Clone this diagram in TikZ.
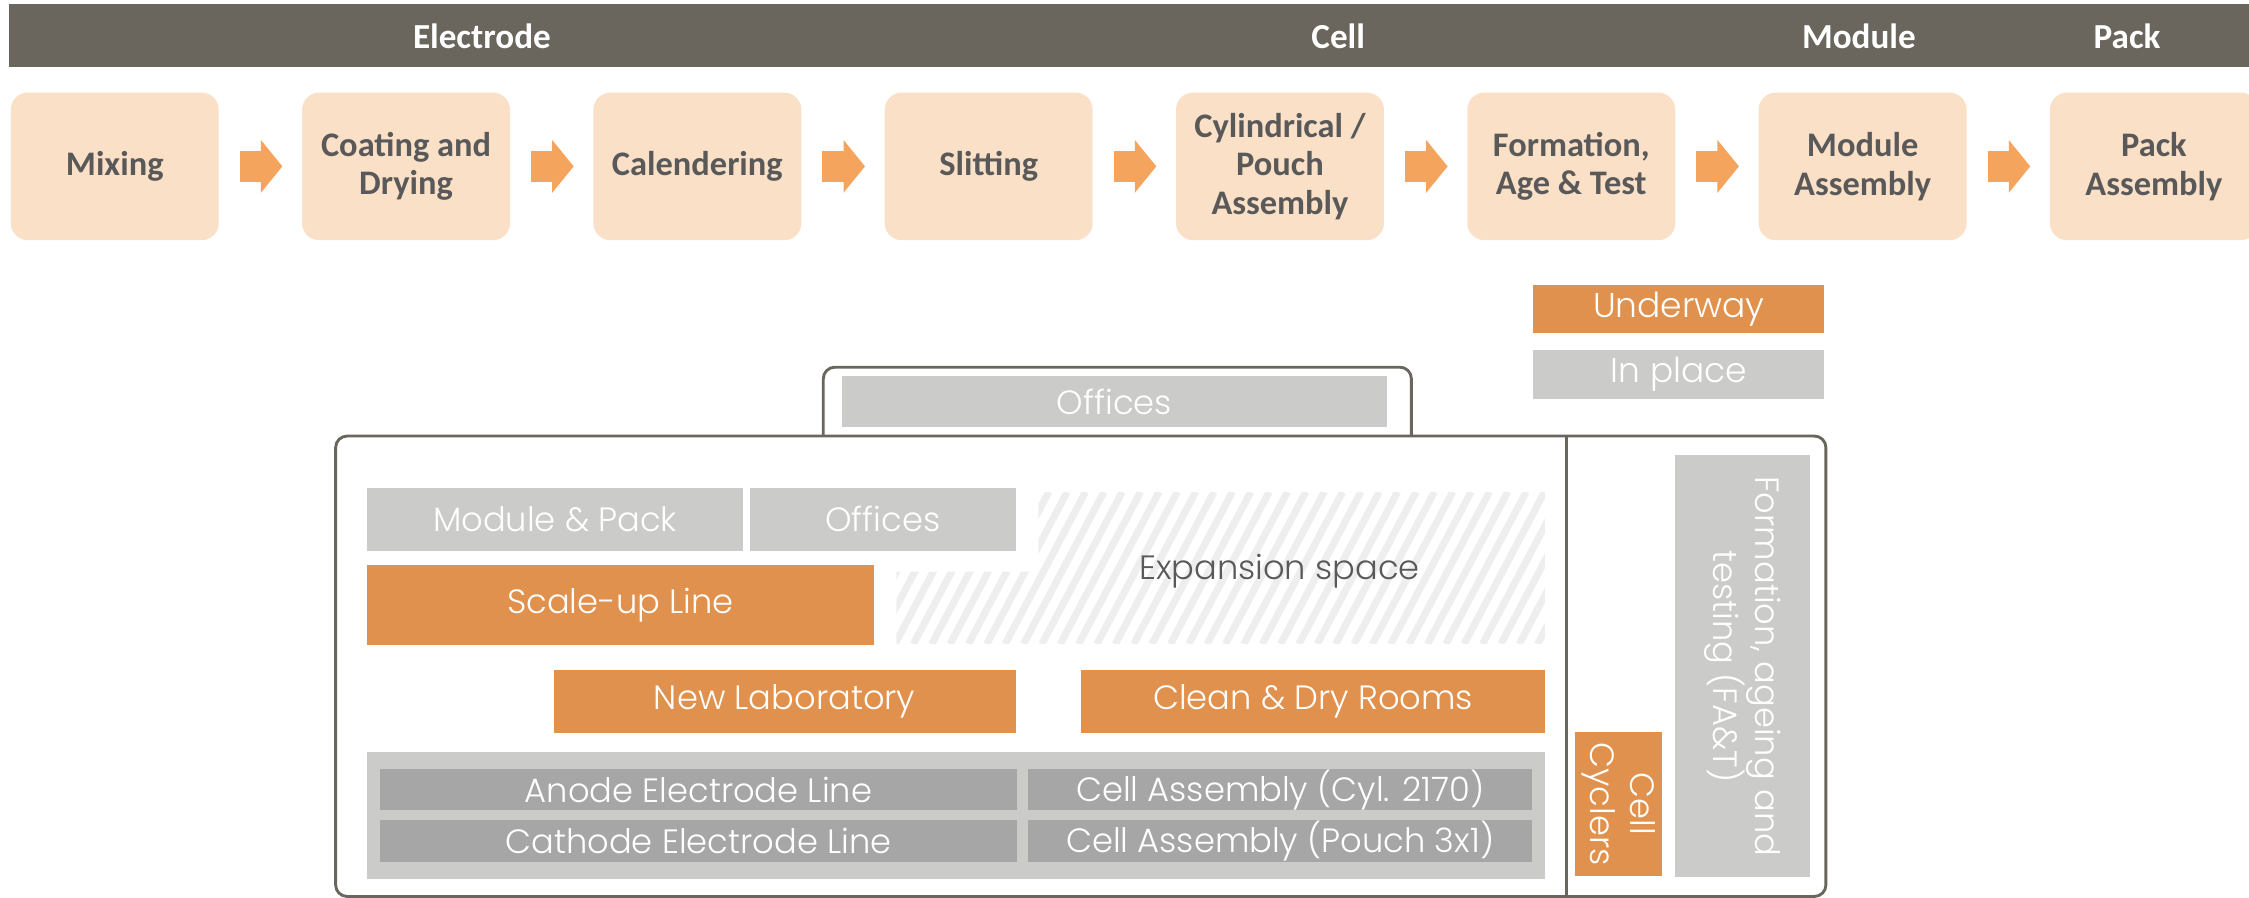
\documentclass[tikz,border=0pt]{standalone}
\usepackage{fontspec}
\setmainfont{Carlito}
\newfontfamily\planfont{Poppins Light}
\usetikzlibrary{arrows.meta}
\definecolor{barbrown}{HTML}{6A665E}
\definecolor{peach}{HTML}{FBE0C8}
\definecolor{arroworange}{HTML}{F5A45D}
\definecolor{boxgray}{HTML}{595959}
\definecolor{uworange}{HTML}{E0914D}
\definecolor{iplgray}{HTML}{CBCBCA}
\definecolor{linegray}{HTML}{A6A6A6}
\definecolor{hatchgray}{HTML}{EEEEEE}
\begin{document}
\begin{tikzpicture}[x=1pt,y=-1pt,
	phase/.style={text=white,font=\fontsize{24.5}{28}\selectfont\bfseries},
	stepbox/.style={fill=peach,rounded corners=12pt,minimum width=145,minimum height=103,align=center,text=boxgray,font=\fontsize{24}{27}\selectfont\bfseries},
	flow/.style={arroworange,line width=22pt,-{Triangle[length=15pt,width=36pt]},shorten <=14.5pt,shorten >=13.5pt},
	wall/.style={draw=barbrown,line width=2pt},
	underway/.style={fill=uworange,text=white,inner sep=0,align=center,font=\planfont\fontsize{23.5}{28}\selectfont},
	inplace/.style={underway,fill=iplgray},
	lineroom/.style={underway,fill=linegray}]
	\useasboundingbox (0,0) rectangle (1568,626);
	\fill[barbrown] (6.5,3) rectangle (1575,47);
	\foreach \x/\gt in {336/Electrode,933/Cell,1296/Module,1483/Pack}\node[phase] (h\gt) at (\x,25) {\gt};
	\foreach \gt[count=\i from 0] in {Mixing,{Coating and\\Drying},Calendering,Slitting,{Cylindrical /\\Pouch\\Assembly},{Formation,\\Age \& Test},{Module\\Assembly},{Pack\\Assembly}}\node[stepbox] (s\i) at (80+203.1*\i,116) {\gt};
	\foreach \a/\b in {0/1,1/2,2/3,3/4,4/5,5/6,6/7}\draw[flow] (s\a)--(s\b);
	\node[underway,font=\planfont\fontsize{24}{28}\selectfont,minimum width=203,minimum height=34] (legu) at (1170.5,215.5) {Underway};
	\node[inplace,font=\planfont\fontsize{24}{28}\selectfont,minimum width=203,minimum height=34] (legi) at (1170.5,261) {In place};
	\draw[wall,rounded corners=8pt] (234,304) rectangle (1273,625);
	\draw[wall,rounded corners=8pt] (574,304) |- (984,256) -- (984,304);
	\draw[wall] (1092,304)--(1092,625);
	\begin{scope}
		\clip (724,343) -| (1077,449) -| (625,398.5) -| cycle;
		\foreach \x in {560,572.8,...,1100}\draw[hatchgray,line width=5pt] (\x,449)--++(56,-106);
	\end{scope}
	\node[text=boxgray,font=\planfont\fontsize{23.5}{28}\selectfont] (expansion) at (892,398) {Expansion space};
	\foreach \xa/\ya/\xb/\yb/\st/\nm/\gt in {587/262/967/298/inplace/annexoffices/Offices,256/340/518/384/inplace/modpack/Module \& Pack,523/340/708/384/inplace/offices/Offices,256/394/609/450/underway/scaleup/Scale-up Line,386/467/708/511/underway/newlab/New Laboratory,754/467/1077/511/underway/cleandry/Clean \& Dry Rooms,256/524/1077/613/inplace/panel/{},265/536/709/565/lineroom/anode/Anode Electrode Line,717/536/1068/565/lineroom/cyl/Cell Assembly (Cyl. 2170),265/572/709/601/lineroom/cathode/Cathode Electrode Line,717/572/1068/601/lineroom/pouch/Cell Assembly (Pouch 3x1)}\node[\st,minimum width=\xb-\xa,minimum height=\yb-\ya] (\nm) at ({(\xa+\xb)/2},{(\ya+\yb)/2}) {\gt};
	\node[underway,rotate=-90,minimum width=101,minimum height=61] (cyclers) at (1128.5,560.5) {Cell\\Cyclers};
	\node[inplace,rotate=-90,minimum width=294,minimum height=94] (fat) at (1215,464.5) {Formation, ageing and\\testing (FA\&T)};
\end{tikzpicture}
\end{document}
